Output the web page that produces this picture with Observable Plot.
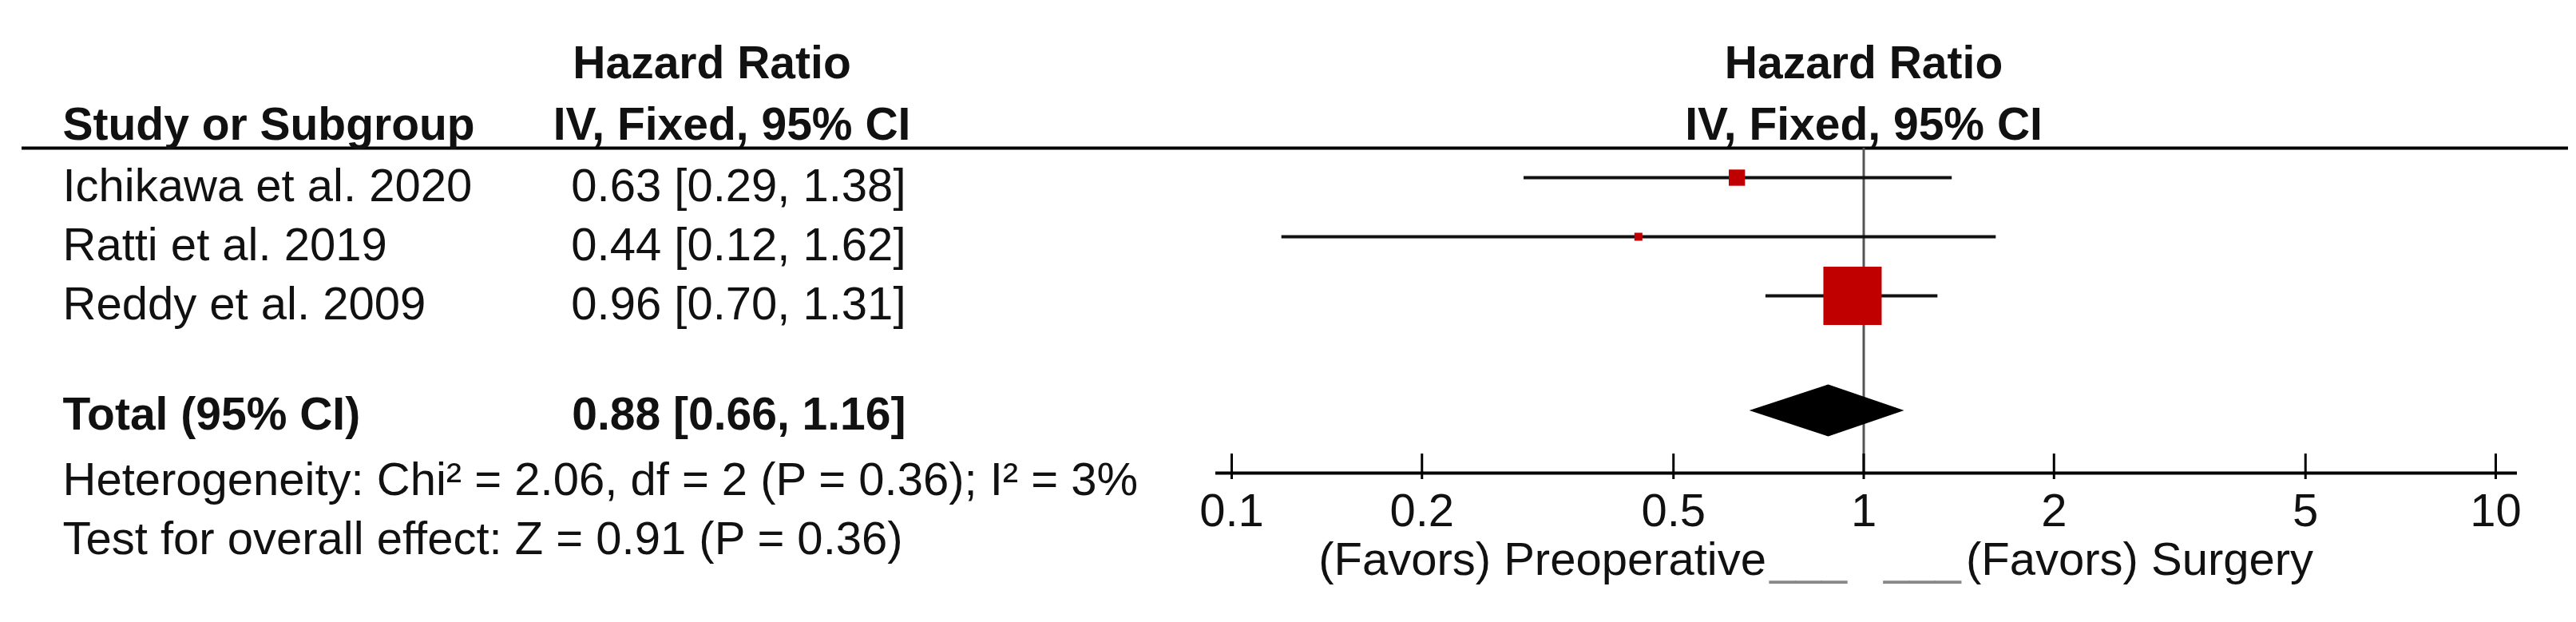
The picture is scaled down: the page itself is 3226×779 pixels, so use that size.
<!DOCTYPE html>
<html>
<head>
<meta charset="utf-8">
<script src="https://cdn.jsdelivr.net/npm/d3@7"></script>
<script src="https://cdn.jsdelivr.net/npm/@observablehq/plot@0.6"></script>
<style>
  html, body { margin: 0; padding: 0; background: #fff; }
  #chart svg { display: block; }
</style>
</head>
<body>
<div id="chart"></div>
<script>
// ---------------- data ----------------
const studies = ["Ichikawa et al. 2020", "Ratti et al. 2019", "Reddy et al. 2009"];
const hazardRatio = [0.63, 0.44, 0.96];
const ciLower = [0.29, 0.12, 0.70];
const ciUpper = [1.38, 1.62, 1.31];
const weightPct = [13.2, 4.8, 82.0];

const totalLabel = "Total (95% CI)";
const totalHR = 0.88;
const totalLower = 0.66;
const totalUpper = 1.16;

const heterogeneityText = "Heterogeneity: Chi² = 2.06, df = 2 (P = 0.36); I² = 3%";
const overallEffectText = "Test for overall effect: Z = 0.91 (P = 0.36)";

const headerTitle = "Hazard Ratio";
const headerMethod = "IV, Fixed, 95% CI";
const headerStudy = "Study or Subgroup";

const tickValues = [0.1, 0.2, 0.5, 1, 2, 5, 10];
const tickLabels = ["0.1", "0.2", "0.5", "1", "2", "5", "10"];

const favorsLeft = "(Favors) Preoperative";
const favorsRight = "(Favors) Surgery";
const underscoreText = "___";

// ---------------- table built from data ----------------
const fmt = (v) => v.toFixed(2);
const rows = studies.map((s, i) => ({
  study: s, row: i, hr: hazardRatio[i], lower: ciLower[i], upper: ciUpper[i], weight: weightPct[i],
  label: `${fmt(hazardRatio[i])} [${fmt(ciLower[i])}, ${fmt(ciUpper[i])}]`
}));
const totalRow = studies.length + 1;          // one blank row before the total
const hetRow = totalRow + 1;
const testRow = totalRow + 2;
const headerRow1 = -2, headerRow2 = -1, headerRuleRow = -0.5, axisRow = hetRow;

const diamondHalf = 0.44; // half-height of the summary diamond, in row units
const diamond = [
  {x: totalLower, y1: totalRow, y2: totalRow},
  {x: totalHR, y1: totalRow - diamondHalf, y2: totalRow + diamondHalf},
  {x: totalUpper, y1: totalRow, y2: totalRow}
];

// ---------------- layout ----------------
const W = 3226, H = 779;
const mL = 1542, mR = 101, mT = 185, mB = 187;
const col = (px) => px - mL;     // offset of a left-table column from the frame's left edge
const FS = 58, FSB = 57;
const ink = "#111";
const font = "'Liberation Sans', Arial, Helvetica, sans-serif";

const txt = {fontSize: FS, fill: ink, fontFamily: font, lineAnchor: "middle"};
const bold = {fontSize: FSB, fill: ink, fontFamily: font, fontWeight: "bold", lineAnchor: "middle"};

const chart = Plot.plot({
  width: W, height: H,
  marginLeft: mL, marginRight: mR, marginTop: mT, marginBottom: mB,
  x: {type: "log", domain: [0.1, 10], label: null},
  y: {domain: [headerRuleRow, axisRow], reverse: true, axis: null, label: null},
  r: {type: "pow", exponent: 0.7, domain: [0, 82], range: [0, 41.2]},
  style: {fontFamily: font, background: "#fff", color: ink},
  marks: [
    // header rule across the whole figure
    Plot.ruleY([headerRuleRow], {stroke: "#000", strokeWidth: 4, insetLeft: -(mL - 27), insetRight: -(3216 - (W - mR))}),
    // line of no effect
    Plot.ruleX([1], {stroke: "#555", strokeWidth: 3}),
    // axis line and ticks
    Plot.ruleY([axisRow], {stroke: "#000", strokeWidth: 4, insetLeft: -20, insetRight: -27}),
    Plot.tickX(tickValues, {x: d => d, stroke: "#000", strokeWidth: 3, insetTop: 383, insetBottom: -8}),
    Plot.axisX(tickValues, {tickSize: 0, tickPadding: 25, tickFormat: (d) => tickLabels[tickValues.indexOf(d)], fontSize: FS, fill: ink, fontFamily: font, label: null}),

    // confidence intervals and weighted squares
    Plot.ruleY(rows, {y: "row", x1: "lower", x2: "upper", stroke: ink, strokeWidth: 4}),
    Plot.dot(rows, {x: "hr", y: "row", r: "weight", symbol: "square", fill: "#c00000", stroke: "none"}),

    // summary diamond
    Plot.areaY(diamond, {x: "x", y1: "y1", y2: "y2", fill: "#000", curve: "linear", dy: -4}),

    // headers (left table)
    Plot.text([headerTitle], {text: d => d, y: [headerRow1], frameAnchor: "left", dx: col(891), textAnchor: "middle", dy: 5, ...bold}),
    Plot.text([headerMethod], {text: d => d, y: [headerRow2], frameAnchor: "left", dx: col(916), textAnchor: "middle", dy: 8, ...bold}),
    Plot.text([headerStudy], {text: d => d, y: [headerRow2], frameAnchor: "left", dx: col(78), textAnchor: "start", dy: 8, ...bold}),
    // headers (plot)
    Plot.text([headerTitle], {text: d => d, x: [1], y: [headerRow1], textAnchor: "middle", dy: 5, ...bold}),
    Plot.text([headerMethod], {text: d => d, x: [1], y: [headerRow2], textAnchor: "middle", dy: 8, ...bold}),

    // study rows
    Plot.text(rows, {text: "study", y: "row", frameAnchor: "left", dx: col(78), textAnchor: "start", dy: 11, ...txt}),
    Plot.text(rows, {text: "label", y: "row", frameAnchor: "left", dx: col(1134), textAnchor: "end", dy: 11, ...txt}),

    // total row
    Plot.text([totalLabel], {text: d => d, y: [totalRow], frameAnchor: "left", dx: col(78), textAnchor: "start", dy: 1, ...bold}),
    Plot.text([`${fmt(totalHR)} [${fmt(totalLower)}, ${fmt(totalUpper)}]`], {text: d => d, y: [totalRow], frameAnchor: "left", dx: col(1134), textAnchor: "end", dy: 1, ...bold}),

    // statistics
    Plot.text([heterogeneityText], {text: d => d, y: [hetRow], frameAnchor: "left", dx: col(78), textAnchor: "start", dy: 9, ...txt}),
    Plot.text([overallEffectText], {text: d => d, y: [testRow], frameAnchor: "left", dx: col(78), textAnchor: "start", dy: 9, ...txt}),

    // favours labels
    Plot.text([favorsLeft], {text: d => d, x: [1], frameAnchor: "bottom", textAnchor: "end", dx: -122, dy: 109, ...txt}),
    Plot.text([underscoreText], {text: d => d, x: [1], frameAnchor: "bottom", textAnchor: "end", dx: -21, dy: 109, ...txt, fill: "#888"}),
    Plot.text([underscoreText], {text: d => d, x: [1], frameAnchor: "bottom", textAnchor: "start", dx: 25, dy: 109, ...txt, fill: "#888"}),
    Plot.text([favorsRight], {text: d => d, x: [1], frameAnchor: "bottom", textAnchor: "start", dx: 128, dy: 109, ...txt})
  ]
});
document.getElementById("chart").appendChild(chart);
</script>
</body>
</html>
